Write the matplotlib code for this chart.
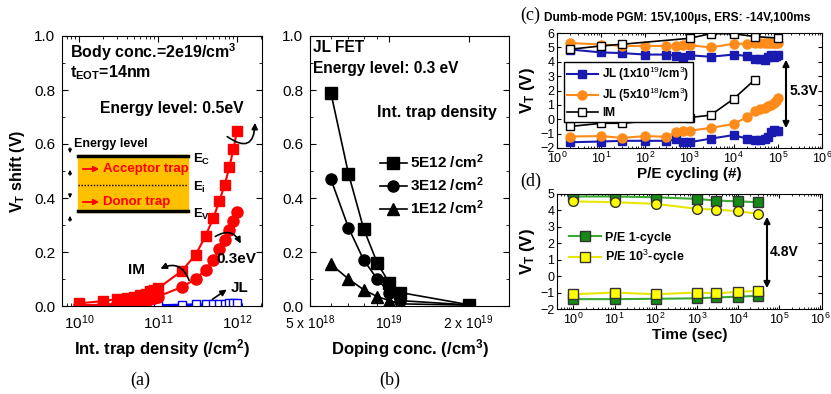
import numpy as np
import matplotlib
matplotlib.use('Agg')
import matplotlib.pyplot as plt
from matplotlib.ticker import FixedLocator, LogLocator, NullFormatter, MultipleLocator, FixedFormatter
from matplotlib.patches import Rectangle, FancyArrowPatch

plt.rcParams['font.family'] = ['Liberation Sans', 'DejaVu Sans']
plt.rcParams['mathtext.fontset'] = 'custom'
plt.rcParams['mathtext.rm'] = 'Liberation Sans'
plt.rcParams['mathtext.it'] = 'Liberation Sans:italic'
plt.rcParams['mathtext.bf'] = 'Liberation Sans:bold'
plt.rcParams['xtick.direction'] = 'in'
plt.rcParams['ytick.direction'] = 'in'
plt.rcParams['xtick.top'] = True
plt.rcParams['ytick.right'] = True

# ---------------- data ----------------
# (a)
trap_density = [1e10, 2e10, 3e10, 4e10, 5e10, 6e10, 7e10, 8e10, 9e10, 1e11,
                2e11, 3e11, 4e11, 5e11, 6e11, 7e11, 8e11, 9e11, 1e12]
im_05ev = [0.01, 0.018, 0.025, 0.03, 0.035, 0.04, 0.045, 0.055, 0.06, 0.065,
           0.13, 0.19, 0.26, 0.325, 0.39, 0.45, 0.515, 0.58, 0.65]
im_03ev = [0.003, 0.005, 0.008, 0.01, 0.013, 0.016, 0.02, 0.025, 0.03, 0.035,
           0.07, 0.10, 0.135, 0.17, 0.21, 0.245, 0.28, 0.315, 0.35]
jl_05ev = [0.002, 0.002, 0.002, 0.002, 0.002, 0.002, 0.003, 0.003, 0.003, 0.003,
           0.005, 0.006, 0.006, 0.007, 0.008, 0.009, 0.01, 0.011, 0.012]
jl_03ev = [0.0, 0.0, 0.0, 0.0, 0.0, 0.0, 0.0, 0.0, 0.0, 0.0,
           0.001, 0.001, 0.001, 0.001, 0.001, 0.001, 0.002, 0.002, 0.002]

# (b)
doping = [6e18, 7e18, 8e18, 9e18, 1e19, 1.1e19, 2e19]
vt_5e12 = [0.79, 0.49, 0.285, 0.16, 0.085, 0.05, 0.005]
vt_3e12 = [0.47, 0.29, 0.17, 0.10, 0.05, 0.02, 0.004]
vt_1e12 = [0.155, 0.10, 0.06, 0.035, 0.02, 0.008, 0.003]
b_labels = ['5E12 /cm$^{\\mathbf{2}}$', '3E12 /cm$^{\\mathbf{2}}$', '1E12 /cm$^{\\mathbf{2}}$']

# (c)
jl_cycles = [2, 10, 30, 100, 300, 500, 700, 1000, 3000, 1e4, 2e4, 3e4, 4e4, 5e4, 6e4, 7e4, 8e4, 9e4, 1e5]
jl1e19_pgm = [4.85, 4.65, 4.6, 4.5, 4.5, 4.4, 4.3, 4.45, 4.35, 4.5, 4.4, 4.2, 4.2, 4.15, 4.35, 4.45, 4.3, 4.4, 4.45]
jl1e19_ers = [-1.6, -1.55, -1.5, -1.5, -1.5, -1.4, -1.6, -1.6, -1.35, -1.1, -1.35, -1.45, -1.42, -1.35, -1.2, -0.9, -0.75, -0.8, -0.85]
jl5e18_pgm = [5.3, 5.2, 5.1, 5.1, 5.1, 5.1, 5.15, 5.15, 5.0, 5.25, 5.25, 5.3, 5.3, 5.3, 5.3, 5.3, 5.3, 5.3, 5.3]
jl5e18_ers = [-1.2, -1.17, -1.3, -1.17, -1.22, -0.9, -0.85, -0.8, -0.6, -0.33, 0.15, 0.6, 0.7, 0.8, 0.9, 1.0, 1.15, 1.3, 1.5]
im_cycles = [2, 10, 30, 1000, 3000, 1e4, 3e4, 1e5]
im_pgm = [4.87, 5.1, 5.22, 5.63, 5.95, 5.95, 5.75, 5.65]
im_ers_cycles = [2, 10, 30, 1000, 3000, 1e4, 3e4]
im_ers = [-0.5, -0.28, -0.28, 0.12, 0.28, 1.42, 2.75]

# (d)
ret_time = [1, 10, 100, 1000, 3000, 1e4, 3e4]
c1_pgm = [4.85, 4.85, 4.8, 4.7, 4.6, 4.55, 4.5]
c1_ers = [-1.4, -1.4, -1.38, -1.35, -1.3, -1.25, -1.2]
c1k_pgm = [4.55, 4.5, 4.4, 4.1, 4.05, 3.95, 3.8]
c1k_ers = [-1.1, -1.0, -1.1, -1.0, -1.05, -0.95, -0.9]

# ---------------- figure ----------------
W, H = 831, 394
fig = plt.figure(figsize=(W / 100, H / 100), dpi=100)


def add_ax(l, t, r, b):
    return fig.add_axes([l / W, 1 - b / H, (r - l) / W, (b - t) / H])


def fp(x, y):
    return (x / W, 1 - y / H)


def ftext(x, y, s, **kw):
    fig.text(x / W, 1 - y / H, s, **kw)


def farrow(p0, p1, rad=0.0, style='-|>', lw=1.2, ms=9, color='black'):
    a = FancyArrowPatch(fp(*p0), fp(*p1), transform=fig.transFigure,
                        connectionstyle='arc3,rad=%s' % rad, arrowstyle=style,
                        mutation_scale=ms, lw=lw, color=color)
    fig.add_artist(a)


SERIF = ['Liberation Serif', 'DejaVu Serif']

# ===== (a) =====
axa = add_ax(62, 36, 262, 306)
axa.set_xscale('log')
axa.plot(trap_density, jl_03ev, '-o', color='#0000FF', mfc='white', mec='#0000FF', ms=7, lw=1.5)
axa.plot(trap_density, jl_05ev, '-s', color='#0000FF', mfc='white', mec='#0000FF', ms=6, lw=1.5)
axa.plot(trap_density, im_03ev, '-o', color='#FF0000', ms=8, lw=1.5)
axa.plot(trap_density, im_05ev, '-s', color='#FF0000', ms=6.5, lw=1.5)
axa.set_xlim(6.1e9, 2.07e12)
axa.set_ylim(0, 1.0)
axa.yaxis.set_major_locator(MultipleLocator(0.2))
axa.yaxis.set_minor_locator(MultipleLocator(0.1))
axa.xaxis.set_major_locator(LogLocator(base=10, numticks=10))
axa.xaxis.set_minor_locator(LogLocator(base=10, subs=np.arange(2, 10), numticks=20))
axa.xaxis.set_minor_formatter(NullFormatter())
axa.yaxis.set_major_formatter(matplotlib.ticker.FormatStrFormatter('%.1f'))
axa.tick_params(labelsize=11, length=4, pad=5)
axa.tick_params(which='minor', length=2)
axa.set_xlabel('Int. trap density (/cm$^{\\mathbf{2}}$)', fontsize=12, fontweight='bold', labelpad=4)
axa.set_ylabel('V$_{\\mathbf{T}}$ shift (V)', fontsize=11.5, fontweight='bold', labelpad=5)


def pa(x, y):
    return ((x - 62) / 200, (306 - y) / 270)


axa.add_patch(Rectangle(pa(78, 212), 110 / 200, 57 / 270, color='#FFC000', transform=axa.transAxes, zorder=1))
for yy in (156, 211):
    axa.plot([pa(78, yy)[0], pa(188, yy)[0]], [pa(78, yy)[1]] * 2, color='black', lw=2.5, transform=axa.transAxes)
axa.plot([pa(78, 185)[0], pa(188, 185)[0]], [pa(78, 185)[1]] * 2, color='black', lw=1, ls=(0, (1, 1.2)), transform=axa.transAxes)

ftext(70, 52, 'Body conc.=2e19/cm$^{\\mathbf{3}}$', fontsize=11.5, fontweight='bold', va='center')
ftext(70, 73, 't$_{\\mathbf{EOT}}$=14nm', fontsize=11.5, fontweight='bold', va='center')
ftext(100, 109, 'Energy level: 0.5eV', fontsize=11.3, fontweight='bold', va='center')
ftext(74, 144, 'Energy level', fontsize=9, fontweight='bold', va='center')
ftext(193, 159, 'E$_{\\mathbf{C}}$', fontsize=9.5, fontweight='bold', va='center')
ftext(193, 187, 'E$_{\\mathbf{i}}$', fontsize=9.5, fontweight='bold', va='center')
ftext(193, 214, 'E$_{\\mathbf{V}}$', fontsize=9.5, fontweight='bold', va='center')
ftext(103, 169, 'Acceptor trap', fontsize=9.5, fontweight='bold', color='#FF0000', va='center')
ftext(103, 202, 'Donor trap', fontsize=9.5, fontweight='bold', color='#FF0000', va='center')
farrow((80, 169), (102, 169), lw=1.3, ms=8, color='#FF0000')
farrow((80, 202), (102, 202), lw=1.3, ms=8, color='#FF0000')
farrow((70, 145), (70, 156), lw=0.9, ms=5)
farrow((70, 178), (70, 167), lw=0.9, ms=5)
farrow((70, 191), (70, 201), lw=0.9, ms=5)
farrow((70, 224), (70, 213), lw=0.9, ms=5)

farrow((225, 135), (255, 120), rad=1.0)
farrow((213, 238), (242, 246), rad=-0.6)
ftext(216, 259, '0.3eV', fontsize=11, fontweight='bold', va='center')
farrow((190, 283), (158, 270), rad=0.6)
ftext(128, 270, 'IM', fontsize=11, fontweight='bold', va='center')
farrow((210, 301), (229, 288), rad=0.0)
ftext(231, 288, 'JL', fontsize=11, fontweight='bold', va='center')
ftext(140, 380, '(a)', fontsize=13, family=SERIF, ha='center', va='center')

# ===== (b) =====
axb = add_ax(310, 36, 509, 306)
axb.set_xscale('log')
hb = []
for vals, mk, lab in zip([vt_5e12, vt_3e12, vt_1e12], ['s', 'o', '^'], b_labels):
    h, = axb.plot(doping, vals, '-', marker=mk, color='black', ms=8, lw=1.2, label=lab)
    hb.append(h)
axb.set_xlim(5e18, 2.85e19)
axb.set_ylim(0, 1.0)
axb.xaxis.set_major_locator(FixedLocator([5e18, 1e19, 2e19]))
axb.xaxis.set_major_formatter(FixedFormatter(['5 x 10$^{18}$', '10$^{19}$', '2 x 10$^{19}$']))
axb.xaxis.set_minor_locator(FixedLocator([6e18, 7e18, 8e18, 9e18]))
axb.xaxis.set_minor_formatter(NullFormatter())
axb.yaxis.set_major_locator(MultipleLocator(0.2))
axb.yaxis.set_minor_locator(MultipleLocator(0.1))
axb.yaxis.set_major_formatter(matplotlib.ticker.FormatStrFormatter('%.1f'))
axb.tick_params(labelsize=11, length=4, pad=5)
axb.tick_params(axis='x', labelsize=10)
axb.tick_params(which='minor', length=2)
axb.set_xlabel('Doping conc. (/cm$^{\\mathbf{3}}$)', fontsize=12, fontweight='bold', labelpad=4)
ftext(313, 47, 'JL FET', fontsize=11.2, fontweight='bold', va='center')
ftext(313, 68, 'Energy level: 0.3 eV', fontsize=11.2, fontweight='bold', va='center')
ftext(377, 113, 'Int. trap density', fontsize=11.5, fontweight='bold', va='center')
fig.legend(handles=hb, loc='upper left', bbox_to_anchor=fp(378, 151), frameon=False,
           prop={'size': 11, 'weight': 'bold'}, handlelength=1.8, handletextpad=0.2,
           labelspacing=0.3, borderpad=0.1, borderaxespad=0)
ftext(390, 380, '(b)', fontsize=13, family=SERIF, ha='center', va='center')

# ===== (c) =====
blue_c = '#1A1AB0'
orange_c = '#FF8C1A'
axc = add_ax(557, 33, 822, 148)
axc.set_xscale('log')
h1, = axc.plot(jl_cycles, jl1e19_pgm, '-s', color=blue_c, ms=5.5, lw=1.5, label='JL (1x10$^{19}$/cm$^{3}$)')
axc.plot(jl_cycles, jl1e19_ers, '-s', color=blue_c, ms=5.5, lw=1.5)
h2, = axc.plot(jl_cycles, jl5e18_pgm, '-o', color=orange_c, ms=6.5, lw=1.5, label='JL (5x10$^{18}$/cm$^{3}$)')
axc.plot(jl_cycles, jl5e18_ers, '-o', color=orange_c, ms=6.5, lw=1.5)
h3, = axc.plot(im_cycles, im_pgm, '-s', color='black', mfc='white', ms=5.5, lw=1.2, label='IM')
axc.plot(im_ers_cycles, im_ers, '-s', color='black', mfc='white', ms=5.5, lw=1.2)
axc.set_xlim(1, 1e6)
axc.set_ylim(-2, 6)
axc.yaxis.set_major_locator(MultipleLocator(1))
axc.xaxis.set_major_locator(LogLocator(base=10, numticks=10))
axc.xaxis.set_minor_locator(LogLocator(base=10, subs=np.arange(2, 10), numticks=20))
axc.xaxis.set_minor_formatter(NullFormatter())
axc.tick_params(labelsize=9, length=3, pad=2)
axc.tick_params(which='minor', length=1.5)
axc.set_xlabel('P/E cycling (#)', fontsize=11, fontweight='bold', labelpad=1)
axc.set_ylabel('V$_{\\mathbf{T}}$ (V)', fontsize=12, fontweight='bold', labelpad=2)
leg = axc.legend(handles=[h1, h2, h3], loc='upper left', bbox_to_anchor=fp(564, 62), bbox_transform=fig.transFigure,
                 frameon=True, fancybox=False, edgecolor='black', framealpha=1,
                 prop={'size': 8.5, 'weight': 'bold'}, handlelength=2.6, handletextpad=0.4,
                 labelspacing=0.25, borderpad=0.25, borderaxespad=0)
leg.get_frame().set_linewidth(1.0)
farrow((786, 131), (786, 57), style='<|-|>', lw=1.5, ms=9)
ftext(790, 91, '5.3V', fontsize=10, fontweight='bold', va='center')
ftext(520, 15, '(c)', fontsize=13, family=SERIF, va='center')
ftext(544, 18, 'Dumb-mode PGM: 15V,100\u00b5s, ERS: -14V,100ms', fontsize=8.6, fontweight='bold', va='center')

# ===== (d) =====
green_line = '#3AAA35'
green_mk = '#168A16'
yel_line = '#E6E600'
yel_mk = '#FFFF00'
axd = add_ax(557, 194, 822, 309)
axd.set_xscale('log')
g1, = axd.plot(ret_time, c1_pgm, '-s', color=green_line, mfc=green_mk, mec='#333333', ms=6.5, lw=1.5, label='P/E 1-cycle')
axd.plot(ret_time, c1_ers, '-s', color=green_line, mfc=green_mk, mec='#333333', ms=6.5, lw=1.5)
axd.plot(ret_time, c1k_pgm, '-o', color=yel_line, mfc=yel_mk, mec='#333333', ms=7, lw=1.5)
g2, = axd.plot(ret_time, c1k_ers, '-s', color=yel_line, mfc=yel_mk, mec='#333333', ms=6.5, lw=1.5, label='P/E 10$^{3}$-cycle')
axd.set_xlim(0.4, 1.1e6)
axd.set_ylim(-2, 5)
axd.yaxis.set_major_locator(MultipleLocator(1))
axd.xaxis.set_major_locator(LogLocator(base=10, numticks=10))
axd.xaxis.set_minor_locator(LogLocator(base=10, subs=np.arange(2, 10), numticks=20))
axd.xaxis.set_minor_formatter(NullFormatter())
axd.tick_params(labelsize=9, length=3, pad=2)
axd.tick_params(which='minor', length=1.5)
axd.set_xlabel('Time (sec)', fontsize=11, fontweight='bold', labelpad=1)
axd.set_ylabel('V$_{\\mathbf{T}}$ (V)', fontsize=12, fontweight='bold', labelpad=2)
axd.legend(handles=[g1, g2], loc='upper left', bbox_to_anchor=fp(566, 229), bbox_transform=fig.transFigure,
           frameon=False, prop={'size': 9, 'weight': 'bold'}, handlelength=2.6, handletextpad=0.3,
           labelspacing=0.35, borderpad=0.2, borderaxespad=0)
farrow((767, 291), (767, 214), style='<|-|>', lw=1.5, ms=9)
ftext(770, 252, '4.8V', fontsize=10, fontweight='bold', va='center')
ftext(520, 181, '(d)', fontsize=13, family=SERIF, va='center')

fig.savefig('out.png', dpi=100)
